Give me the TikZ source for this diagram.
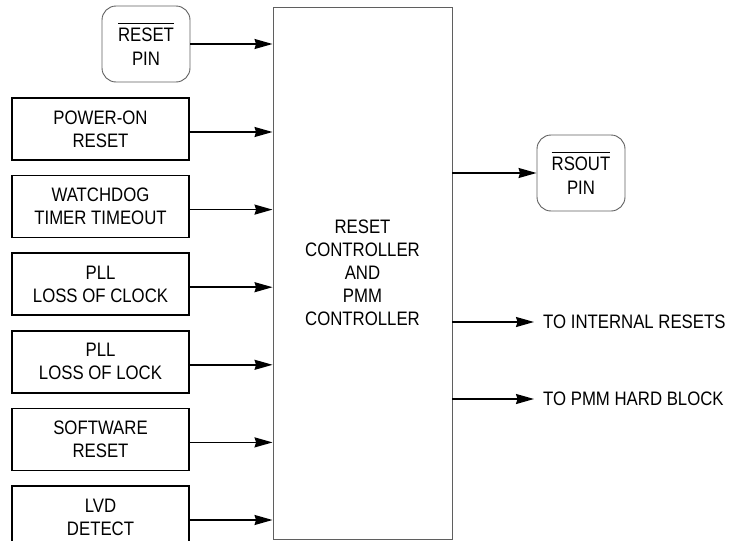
\documentclass[tikz,border=0pt]{standalone}
\usepackage{fontspec}
\setmainfont{Liberation Sans}[FakeStretch=0.86]
\usepackage{xcolor}
\usetikzlibrary{arrows.meta}
\usetikzlibrary{positioning}

\definecolor{framegray}{RGB}{95,95,95}

\newcommand{\barsig}[1]{$\overline{\mbox{\rule{0pt}{17pt}#1}}$}

\tikzset{
    srcbox/.style={draw, line width=1.6pt, minimum width=177pt, minimum height=62pt,
        align=center, inner sep=0pt},
    pinbox/.style={draw=framegray, line width=0.9pt, rounded corners=14pt,
        minimum width=88pt, minimum height=76pt, align=center, inner sep=0pt},
    sig/.style={line width=1.5pt, -{Stealth[length=18pt,width=10pt,inset=1.5pt]}},
}

\begin{document}
\begin{tikzpicture}[x=1pt, y=-1pt, font=\fontsize{19.5}{23}\selectfont, node distance=14pt]
    \useasboundingbox (0,0) rectangle (737,541);

    % controller block
    \node [draw=framegray, line width=0.9pt, minimum width=179pt, minimum height=532pt,
        align=center, inner sep=0pt] (ctrl) at (362.5,273)
        {RESET\\CONTROLLER\\AND\\PMM\\CONTROLLER};

    % reset sources
    \node [pinbox] (rstpin) at (146,44) {\barsig{RESET}\\[1pt]PIN};
    \node [srcbox] (por) at (100.5,129) {POWER-ON\\RESET};
    \node [srcbox, below= of por] (wdt) {WATCHDOG\\TIMER TIMEOUT};
    \node [srcbox, below= of wdt] (lclk) {PLL\\LOSS OF CLOCK};
    \node [srcbox, below= of lclk] (llck) {PLL\\LOSS OF LOCK};
    \node [srcbox, below= of llck] (swr) {SOFTWARE\\RESET};
    \node [srcbox, below= of swr] (lvd) {LVD\\DETECT};

    % outputs
    \node [pinbox] (rsout) at (581,173) {\barsig{RSOUT}\\[1pt]PIN};
    \node [anchor=west, inner sep=0pt] (intrst) at (543,322) {TO INTERNAL RESETS};
    \node [anchor=west, inner sep=0pt] (pmmhb) at (543,399) {TO PMM HARD BLOCK};

    \draw [sig] (rstpin.east) -- (rstpin.east -| ctrl.west);
    \foreach \src in {por, wdt, lclk, llck, swr, lvd}
        \draw [sig] ([yshift=-3pt]\src.east) -- ([yshift=-3pt]\src.east -| ctrl.west);

    \draw [sig] (rsout.west -| ctrl.east) -- (rsout.west);
    \draw [sig] (intrst.west -| ctrl.east) -- ([xshift=-9pt]intrst.west);
    \draw [sig] (pmmhb.west -| ctrl.east) -- ([xshift=-9pt]pmmhb.west);
\end{tikzpicture}
\end{document}
